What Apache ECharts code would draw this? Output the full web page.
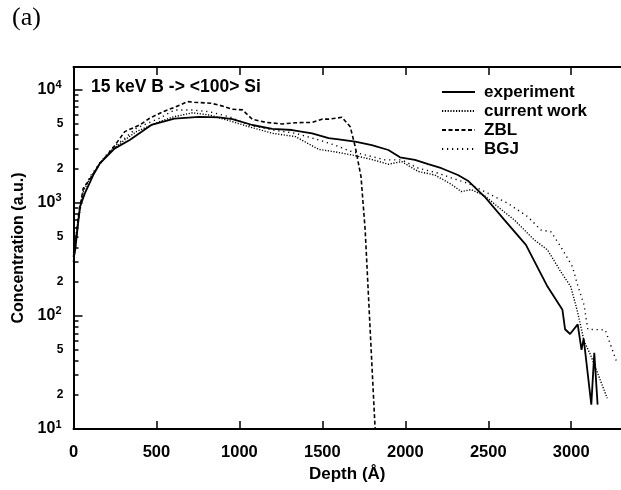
<!DOCTYPE html>
<html><head><meta charset="utf-8">
<script src="https://cdn.jsdelivr.net/npm/echarts@6/dist/echarts.min.js"></script>
<style>html,body{margin:0;padding:0;background:#fff}#c{width:621px;height:490px}</style>
</head><body><div id="c"></div>
<script>
// ---- data (depth in Å, concentration in a.u.) ----
const seriesNames = ['experiment', 'current work', 'ZBL', 'BGJ'];

const expDepth = [0, 10, 39, 69, 119, 159, 249, 339, 469, 608, 758, 878, 958, 1078, 1198, 1318, 1438, 1538, 1598, 1698, 1798, 1898, 1968, 2058, 2138, 2218, 2317, 2377, 2477, 2597, 2727, 2857, 2947, 2963, 2993, 3039, 3062, 3075, 3121, 3139, 3159];
const expConc  = [330, 380, 920, 1210, 1750, 2220, 3010, 3570, 4840, 5500, 5700, 5650, 5450, 4840, 4470, 4370, 4090, 3700, 3620, 3450, 3220, 2910, 2510, 2380, 2180, 2010, 1750, 1560, 1130, 702, 423, 181, 113, 76, 69, 84, 50, 63, 16.4, 47, 16.4];

const cwDepth = [0, 30, 60, 100, 160, 230, 300, 379, 518, 600, 718, 818, 958, 1058, 1198, 1338, 1478, 1578, 1678, 1798, 1898, 1978, 2078, 2178, 2277, 2337, 2397, 2477, 2557, 2657, 2777, 2857, 2937, 2997, 3037, 3077, 3117, 3217];
const cwConc  = [340, 750, 1250, 1650, 2200, 2900, 3500, 4230, 5180, 5700, 6210, 5930, 5180, 4670, 4090, 3820, 2950, 2800, 2630, 2400, 2180, 2300, 1880, 1750, 1450, 1250, 1300, 1150, 920, 702, 468, 382, 245, 181, 110, 60, 45, 18.7];

const zblDepth = [0, 9, 29, 59, 109, 159, 229, 309, 399, 459, 539, 608, 688, 728, 828, 878, 958, 1018, 1078, 1158, 1258, 1338, 1438, 1498, 1538, 1618, 1668, 1698, 1733, 1758, 1818];
const zblConc  = [300, 380, 752, 1340, 1690, 2220, 2910, 4230, 4840, 5550, 6340, 6930, 7780, 7680, 7530, 7250, 6670, 6580, 5430, 5110, 4940, 5070, 5100, 5450, 5450, 5660, 4670, 3110, 1690, 573, 10];

const bgjDepth = [0, 30, 60, 100, 160, 230, 309, 379, 518, 608, 718, 818, 938, 1058, 1198, 1338, 1498, 1578, 1678, 1798, 1878, 1978, 2078, 2197, 2277, 2377, 2497, 2617, 2737, 2817, 2877, 2937, 3007, 3037, 3077, 3100, 3205, 3277];
const bgjConc  = [360, 700, 1300, 1700, 2250, 3000, 3700, 4530, 5550, 6560, 6560, 6340, 5730, 4840, 4370, 4090, 3500, 3200, 2810, 2550, 2380, 2380, 2010, 1820, 1650, 1480, 1210, 986, 752, 573, 553, 408, 272, 190, 125, 76, 75, 38];

// ---- axes ----
const depthMin = 0, depthMax = 3300;
const depthTicks = [0, 500, 1000, 1500, 2000, 2500, 3000];
const concMin = 10, concMax = 15740;
const concMajorTicks = [10, 100, 1000, 10000];
const concMinorLabels = [20, 50, 200, 500, 2000, 5000];
const concMinorTicks = [20, 30, 40, 50, 60, 70, 80, 90, 200, 300, 400, 500, 600, 700, 800, 900, 2000, 3000, 4000, 5000, 6000, 7000, 8000, 9000];

const chartTitle = '15 keV B -> <100> Si';
const panelLabel = '(a)';
const xName = 'Depth (Å)';
const yName = 'Concentration (a.u.)';

// ---- build ----
const L = v => Math.log10(v);
const pairs = (xs, ys) => xs.map((x, i) => [x, L(ys[i])]);
const FONT = '"Liberation Sans", Arial, Helvetica, sans-serif';
const txt = (size) => ({ fontFamily: FONT, fontWeight: 'bold', fontSize: size, color: '#000' });

const chart = echarts.init(document.getElementById('c'), null, { renderer: 'canvas' });
const axisLine = { show: true, lineStyle: { color: '#000', width: 2 } };

const option = {
  animation: false,
  backgroundColor: '#fff',
  grid: { left: 73.5, right: -3, top: 67, bottom: 61 },
  xAxis: [
    { type: 'value', position: 'bottom', min: depthMin, max: depthMax,
      axisLine: axisLine,
      axisTick: { inside: true, length: 8, customValues: depthTicks, lineStyle: { color: '#000', width: 1.5 } },
      axisLabel: Object.assign({ customValues: depthTicks, margin: 15, formatter: v => String(v) }, txt(16.5)),
      splitLine: { show: false },
      name: xName, nameLocation: 'middle', nameGap: 33, nameTextStyle: txt(17) },
    { type: 'value', position: 'top', min: depthMin, max: depthMax,
      axisLine: axisLine,
      axisTick: { inside: true, length: 8, customValues: depthTicks, lineStyle: { color: '#000', width: 1.5 } },
      axisLabel: { show: false }, splitLine: { show: false } }
  ],
  yAxis: [
    { type: 'value', position: 'left', min: L(concMin), max: L(concMax),
      axisLine: axisLine,
      axisTick: { inside: true, length: 9, customValues: concMajorTicks.map(L), lineStyle: { color: '#000', width: 1.5 } },
      axisLabel: { customValues: concMajorTicks.map(L), margin: 12,
        formatter: v => '{b|10}{s|' + Math.round(v) + '}',
        rich: { b: txt(16), s: Object.assign(txt(11), { verticalAlign: 'bottom', padding: [0, 0, 9, 0] }) } },
      splitLine: { show: false },
      name: yName, nameLocation: 'middle', nameGap: 46, nameTextStyle: txt(16) },
    { type: 'value', position: 'left', min: L(concMin), max: L(concMax),
      axisLine: { show: false },
      axisTick: { inside: true, length: 5, customValues: concMinorTicks.map(L), lineStyle: { color: '#000', width: 1.5 } },
      axisLabel: Object.assign({ customValues: concMinorLabels.map(L), margin: 10,
        formatter: v => String(Math.round(Math.pow(10, v - Math.floor(v + 1e-9)))) }, txt(12)),
      splitLine: { show: false } }
  ],
  legend: {
    left: 441, top: 83, padding: 0, orient: 'vertical', itemWidth: 33, itemHeight: 15, itemGap: 1,
    itemStyle: { opacity: 0 },
    data: seriesNames, textStyle: Object.assign(txt(17), { lineHeight: 18, padding: [0, 0, 0, 4] })
  },
  graphic: [
    { type: 'text', left: 12, top: 5, style: { text: panelLabel, font: '26px "Liberation Serif", "DejaVu Serif", serif', fill: '#000' } },
    { type: 'text', left: 91, top: 78, style: { text: chartTitle, font: 'bold 17.5px ' + FONT, fill: '#000' } }
  ],
  series: [
    { name: seriesNames[0], type: 'line', data: pairs(expDepth, expConc), symbol: 'none', clip: true,
      itemStyle: { color: '#000' }, lineStyle: { color: '#000', width: 1.8, type: 'solid' } },
    { name: seriesNames[1], type: 'line', data: pairs(cwDepth, cwConc), symbol: 'none', clip: true,
      itemStyle: { color: '#000' }, lineStyle: { color: '#000', width: 1.4, type: [1.2, 1.6] } },
    { name: seriesNames[2], type: 'line', data: pairs(zblDepth, zblConc), symbol: 'none', clip: true,
      itemStyle: { color: '#000' }, lineStyle: { color: '#000', width: 1.6, type: [4, 2.5] } },
    { name: seriesNames[3], type: 'line', data: pairs(bgjDepth, bgjConc), symbol: 'none', clip: true,
      itemStyle: { color: '#000' }, lineStyle: { color: '#000', width: 1.4, type: [1.2, 3.8] } }
  ]
};
chart.setOption(option);
</script></body></html>
